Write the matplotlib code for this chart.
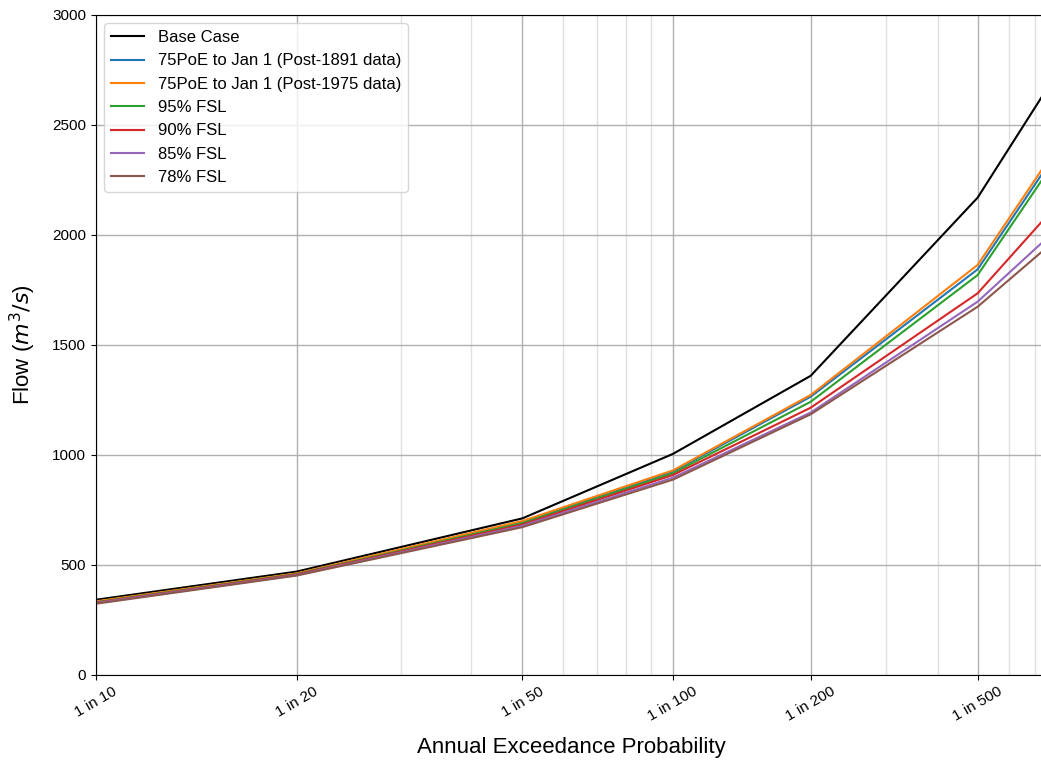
import numpy as np
import matplotlib
matplotlib.use('Agg')
import matplotlib.pyplot as plt
from matplotlib.ticker import FixedLocator, FixedFormatter, NullFormatter
from statistics import NormalDist

plt.rcParams['font.family'] = ['Liberation Sans', 'DejaVu Sans']

# return periods (1 in T)
aep = [10, 20, 50, 100, 200, 500, 750]
base_case = [342, 470, 712, 1005, 1360, 2170, 2665]
poe75_1891 = [333, 460, 696, 925, 1265, 1844, 2311]
poe75_1975 = [335, 462, 700, 930, 1273, 1864, 2332]
fsl95 = [331, 459, 690, 917, 1242, 1818, 2284]
fsl90 = [329, 457, 684, 909, 1215, 1735, 2087]
fsl85 = [327, 454, 678, 897, 1193, 1697, 1986]
fsl78 = [324, 452, 672, 888, 1185, 1674, 1944]

major_T = [10, 20, 50, 100, 200, 500]
minor_T = [30, 40, 60, 70, 80, 90, 300, 400, 600, 700]

nd = NormalDist()
_ppf = np.vectorize(nd.inv_cdf)
_cdf = np.vectorize(nd.cdf)


def forward(T):
    T = np.clip(np.asarray(T, dtype=float), 1.0001, 1e9)
    return _ppf(1 - 1 / T)


def inverse(z):
    z = np.clip(np.asarray(z, dtype=float), -5, 5.9)
    return 1 / (1 - _cdf(z))


fig = plt.figure(figsize=(10.41, 7.62), dpi=100)
ax = fig.add_axes([96 / 1041, 87 / 762, (1047 - 96) / 1041, 660 / 762])
ax.set_xscale('function', functions=(forward, inverse))

ax.plot(aep, base_case, color='black', label='Base Case')
ax.plot(aep, poe75_1891, color='C0', label='75PoE to Jan 1 (Post-1891 data)')
ax.plot(aep, poe75_1975, color='C1', label='75PoE to Jan 1 (Post-1975 data)')
ax.plot(aep, fsl95, color='C2', label='95% FSL')
ax.plot(aep, fsl90, color='C3', label='90% FSL')
ax.plot(aep, fsl85, color='C4', label='85% FSL')
ax.plot(aep, fsl78, color='C5', label='78% FSL')

ax.set_xlim(10, 750)
ax.set_ylim(0, 3000)
ax.xaxis.set_major_locator(FixedLocator(major_T))
ax.xaxis.set_major_formatter(FixedFormatter(['1 in %d' % t for t in major_T]))
ax.xaxis.set_minor_locator(FixedLocator(minor_T))
ax.xaxis.set_minor_formatter(NullFormatter())
ax.tick_params(axis='x', which='minor', length=0)
ax.tick_params(axis='both', which='major', labelsize=11)
plt.setp(ax.get_xticklabels(), rotation=30)

ax.grid(which='major', color='#b0b0b0', linewidth=1)
ax.grid(which='minor', axis='x', color='#e0e0e0', linewidth=1)

ax.set_xlabel('Annual Exceedance Probability', fontsize=16, labelpad=9)
ax.set_ylabel('Flow ($m^3/s$)', fontsize=16, labelpad=10)
ax.legend(loc='upper left', fontsize=12)

fig.savefig('out.png', dpi=100)
